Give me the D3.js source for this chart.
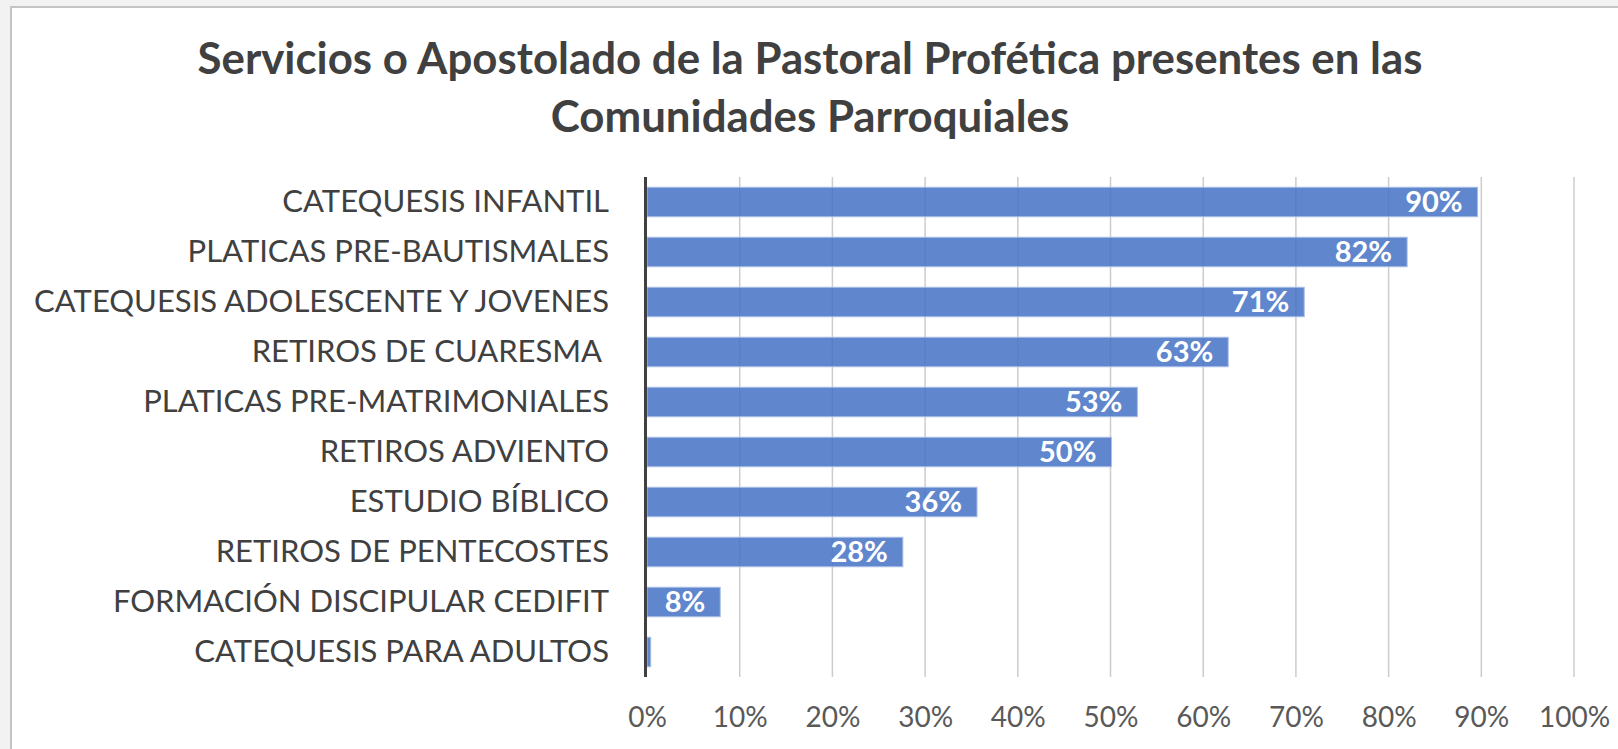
<!DOCTYPE html>
<html>
<head>
<meta charset="utf-8">
<script src="https://cdn.jsdelivr.net/npm/d3@7"></script>
<style>
  html, body { margin: 0; padding: 0; background: #f2f2f2; }
  svg { display: block; }
  text { font-family: Lato, "Open Sans", sans-serif; }
</style>
</head>
<body>
<div id="chart-area"></div>
<script>
// chart data
var categories = [
  "CATEQUESIS INFANTIL",
  "PLATICAS PRE-BAUTISMALES",
  "CATEQUESIS ADOLESCENTE Y JOVENES",
  "RETIROS DE CUARESMA ",
  "PLATICAS PRE-MATRIMONIALES",
  "RETIROS ADVIENTO",
  "ESTUDIO BÍBLICO",
  "RETIROS DE PENTECOSTES",
  "FORMACIÓN DISCIPULAR CEDIFIT",
  "CATEQUESIS PARA ADULTOS"
];
var values = [0.896, 0.82, 0.709, 0.627, 0.529, 0.501, 0.356, 0.276, 0.079, 0.004];
var tickValues = [0, 0.1, 0.2, 0.3, 0.4, 0.5, 0.6, 0.7, 0.8, 0.9, 1.0];
var titleLines = [
  "Servicios o Apostolado de la Pastoral Profética presentes en las",
  "Comunidades Parroquiales"
];

var W = 1618, H = 749;
var margin = {top: 177, left: 647, right: 44, bottom: 72};
var width = W - margin.left - margin.right;
var height = H - margin.top - margin.bottom;

var svg = d3.select("#chart-area").append("svg")
  .attr("width", W).attr("height", H);

// chart frame
svg.append("rect")
  .attr("x", 11).attr("y", 7)
  .attr("width", W + 20).attr("height", H + 20)
  .attr("fill", "#ffffff")
  .attr("stroke", "#c4c4c4").attr("stroke-width", 2);

// title
svg.append("g").selectAll("text").data(titleLines).enter()
  .append("text")
  .attr("x", 810)
  .attr("y", function(d, i) { return 74 + i * 58; })
  .attr("text-anchor", "middle")
  .style("font-size", "43.8px")
  .style("font-weight", "bold")
  .attr("fill", "#404040")
  .text(function(d) { return d; });

var g = svg.append("g")
  .attr("transform", "translate(" + margin.left + "," + margin.top + ")");

// scales
var x = d3.scaleLinear().domain([0, 1]).range([0, width]);
var y = d3.scaleBand().domain(categories).range([0, height]).paddingInner(0.41).paddingOuter(0.205);

// gridlines
g.append("g").selectAll("line").data(tickValues.slice(1)).enter()
  .append("line")
  .attr("x1", function(d) { return x(d); })
  .attr("x2", function(d) { return x(d); })
  .attr("y1", 0).attr("y2", height)
  .attr("stroke", "#cccccc").attr("stroke-width", 1.5);

// x axis labels
var xAxis = d3.axisBottom(x).tickValues(tickValues).tickFormat(d3.format(".0%")).tickSize(0).tickPadding(0);
var xg = g.append("g").attr("transform", "translate(0," + height + ")").call(xAxis);
xg.select(".domain").remove();
xg.selectAll("text")
  .attr("y", 50)
  .attr("dy", 0)
  .style("font-size", "28px")
  .style("font-family", "Lato, 'Open Sans', sans-serif")
  .attr("fill", "#595959");

// bars
g.append("g").selectAll("rect").data(values).enter()
  .append("rect")
  .attr("x", x(0))
  .attr("y", function(d, i) { return y(categories[i]); })
  .attr("width", function(d) { return x(d) - x(0); })
  .attr("height", y.bandwidth())
  .attr("fill", "#4472c4").attr("fill-opacity", 0.85)
  .attr("stroke", "#a9bfe6").attr("stroke-width", 1);

// data labels
g.append("g").selectAll("text").data(values).enter()
  .filter(function(d) { return d >= 0.01; })
  .append("text")
  .attr("x", function(d) { return x(d) - 15; })
  .attr("y", function(d) { return y(categories[values.indexOf(d)]) + y.bandwidth() / 2; })
  .attr("dy", "0.36em")
  .attr("text-anchor", "end")
  .style("font-size", "29px")
  .style("font-weight", "bold")
  .attr("fill", "#ffffff")
  .text(function(d) { return Math.round(d * 100) + "%"; });

// y axis
var yAxis = d3.axisLeft(y).tickSize(0).tickPadding(38);
var yg = g.append("g").call(yAxis);
yg.select(".domain").remove();
yg.selectAll("text")
  .style("font-size", "31px")
  .style("font-family", "Lato, 'Open Sans', sans-serif")
  .style("white-space", "pre")
  .attr("fill", "#404040");

// axis line
g.append("line")
  .attr("x1", -1.5).attr("x2", -1.5)
  .attr("y1", 0).attr("y2", height)
  .attr("stroke", "#404040").attr("stroke-width", 3);
</script>
</body>
</html>
